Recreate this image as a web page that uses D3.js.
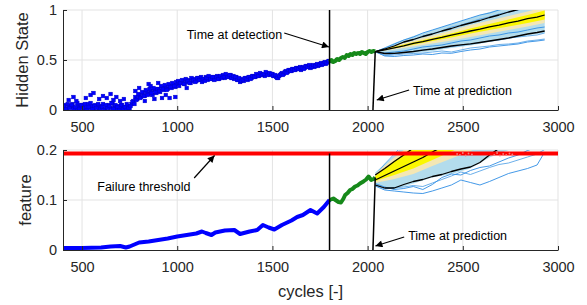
<!DOCTYPE html>
<html>
<head>
<meta charset="utf-8">
<script src="https://cdn.jsdelivr.net/npm/d3@7"></script>
<style>
body { margin: 0; background: #fff; }
text { font-family: "Liberation Sans", Arial, sans-serif; }
</style>
</head>
<body>
<div id="chart"></div>
<script>
// ---- data ----
var xTicks = [500, 1000, 1500, 2000, 2500, 3000];
var topTicks = [0, 0.5, 1];
var botTicks = [0, 0.1, 0.2];
var tDetect = 1800, tPredict = 2040, tPredictBase = 2028;
var threshold = 0.193;

// hidden state scatter, one value every 10 cycles from 400 (A) and from 405 (B)
var hsStart = 400, hsStep = 10;
var hsA = [.02,.05,.01,.04,.03,.06,.02,.00,.04,.03,
  .05,.01,.03,.06,.02,.04,.00,.05,.03,.02,
  .04,.06,.01,.03,.05,.02,.07,.03,.01,.04,
  .02,.05,.03,.01,.04,.02,.06,.09,.13,.11,
  .15,.13,.17,.14,.18,.16,.19,.15,.20,.17,
  .21,.18,.22,.20,.23,.21,.24,.22,.25,.23,
  .26,.24,.27,.29,.26,.28,.30,.27,.29,.31,
  .29,.32,.30,.28,.31,.33,.30,.32,.31,.33,
  .32,.34,.31,.33,.35,.32,.34,.33,.35,.32,
  .31,.33,.30,.28,.31,.29,.32,.30,.33,.32,
  .34,.33,.35,.34,.36,.35,.34,.37,.36,.35,
  .36,.34,.33,.32,.35,.37,.36,.39,.38,.40,
  .39,.41,.40,.42,.41,.40,.43,.42,.44,.43,
  .42,.44,.43,.45,.44,.46,.45,.47,.46,.48,
  .49];
var hsB = [.04,.01,.06,.02,.05,.01,.03,.07,.01,.05,
  .02,.06,.00,.03,.07,.01,.04,.02,.06,.01,
  .03,.00,.05,.02,.04,.07,.01,.05,.03,.00,
  .05,.01,.03,.06,.02,.04,.08,.06,.10,.16,
  .12,.18,.14,.20,.15,.21,.17,.22,.18,.21,
  .19,.24,.21,.25,.20,.26,.23,.27,.24,.28,
  .29,.27,.30,.26,.31,.29,.27,.32,.30,.28,
  .32,.30,.33,.31,.29,.32,.34,.31,.33,.30,
  .33,.31,.34,.32,.33,.36,.33,.35,.32,.34,
  .33,.30,.32,.29,.30,.32,.31,.33,.31,.34,
  .33,.36,.34,.37,.35,.36,.38,.35,.37,.36,
  .34,.35,.32,.34,.36,.35,.38,.37,.40,.39,
  .41,.40,.42,.41,.43,.42,.41,.44,.43,.45,
  .43,.45,.44,.46,.45,.47,.46,.48,.47,.49];
var hsOutX = [430,455,470,520,545,560,590,610,630,650,665,680,700,720,780,800,830,850,860,880,900,920,940,960,990,1050];
var hsOutY = [.10,.13,.09,.12,.15,.17,.11,.14,.12,.16,.10,.13,.09,.11,.19,.22,.09,.26,.24,.11,.27,.12,.15,.12,.13,.22];

// hidden state after detection (green)
var hsGreenX = [1800,1810,1820,1830,1840,1850,1860,1870,1880,1890,1900,1910,1920,1930,1940,1950,1960,1970,1980,1990,2000,2010,2020,2030,2040];
var hsGreenY = [.48,.50,.48,.49,.51,.50,.52,.53,.52,.55,.54,.56,.55,.57,.56,.57,.56,.58,.57,.56,.58,.59,.58,.59,.585];

// feature (bottom)
var feBlueX = [400,450,500,550,600,650,700,730,750,800,850,900,950,1000,1050,1100,1130,1150,1180,1200,1250,1300,1330,1380,1420,1450,1480,1510,1550,1600,1630,1660,1700,1735,1770,1800];
var feBlueY = [.004,.004,.004,.0045,.005,.007,.008,.005,.007,.015,.017,.020,.023,.027,.030,.033,.037,.034,.030,.035,.039,.040,.032,.037,.040,.050,.045,.041,.050,.059,.066,.070,.080,.073,.086,.100];
var feGreenX = [1800,1820,1835,1847,1860,1872,1882,1895,1908,1920,1934,1947,1960,1978,1992,2005,2019,2032,2040];
var feGreenY = [.100,.103,.099,.096,.095,.102,.110,.114,.120,.122,.127,.129,.133,.137,.141,.147,.140,.142,.145];

// prognosis fan
var trajX = [2040,2090,2140,2190,2240,2290,2340,2390,2440,2490,2540,2590,2640,2690,2740,2790,2840,2890,2930];
var bandX = [2040,2140,2240,2340,2440,2540,2640,2740,2840,2930];

var topMed = [.583,.602,.622,.641,.666,.684,.707,.726,.748,.768,.79,.808,.832,.849,.872,.889,.913,.928,.95];
var topUp  = [.583,.61,.64,.68,.705,.735,.76,.79,.815,.845,.87,.895,.925,.95,.98,1.005,1.03,1.05,1.07];
var topLow = [.583,.565,.567,.575,.585,.598,.61,.625,.64,.652,.662,.675,.69,.705,.72,.74,.76,.775,.79];
var topTraj = [
  [.583,.62,.66,.70,.73,.77,.80,.83,.86,.89,.92,.95,.97,1.0,1.02,1.04,1.06,1.08,1.1],
  [.583,.61,.645,.675,.70,.74,.765,.79,.83,.85,.88,.91,.93,.96,.98,1.0,1.02,1.05,1.07],
  [.583,.57,.58,.59,.61,.63,.64,.65,.67,.69,.70,.72,.74,.75,.77,.78,.80,.82,.83],
  [.583,.545,.55,.56,.565,.57,.58,.59,.58,.60,.62,.63,.64,.655,.66,.67,.69,.70,.71],
  [.583,.54,.535,.545,.55,.56,.555,.57,.567,.585,.60,.61,.63,.64,.65,.66,.68,.69,.70],
  [.583,.55,.56,.575,.585,.60,.61,.62,.635,.645,.66,.675,.69,.70,.72,.73,.74,.75,.77]
];
var topBlueLo = [.583,.56,.57,.59,.62,.645,.68,.71,.745,.77];
var topBlueHi = [.583,.67,.74,.80,.86,.92,.98,1.03,1.08,1.1];
var topBeiLo  = [.583,.605,.635,.665,.695,.73,.765,.80,.835,.87];
var topBeiHi  = [.583,.645,.695,.745,.795,.85,.895,.94,.985,1.03];
var topYelLo  = [.583,.617,.653,.689,.725,.765,.80,.835,.87,.905];
var topYelHi  = [.583,.633,.677,.721,.765,.815,.86,.905,.95,.995];

var botMed = [.14,.149,.158,.167,.176,.185,.196,.206,.215,.225,.234,.243,.252,.26,.27,.28,.29,.3,.31];
var botUp  = [.15,.163,.177,.19,.204,.218,.232,.246,.26,.274,.288,.3,.31,.32,.33,.34,.35,.36,.37];
var botLow = [.13,.124,.124,.131,.137,.141,.147,.151,.157,.162,.166,.175,.19,.203,.215,.225,.235,.245,.255];
var botTraj = [
  [.128,.12,.118,.116,.114,.113,.118,.124,.13,.14,.135,.13,.137,.145,.153,.158,.163,.17,.196],
  [.13,.122,.125,.126,.129,.127,.134,.141,.148,.156,.151,.158,.165,.171,.174,.18,.186,.192,.201],
  [.133,.126,.121,.123,.127,.121,.131,.145,.152,.15,.159,.165,.168,.176,.184,.19,.199,.206,.212],
  [.15,.172,.192,.212,.23,.25,.27,.29,.31,.33,.35,.37,.39,.41,.43,.45,.47,.49,.51],
  [.145,.165,.178,.196,.21,.225,.24,.255,.27,.285,.3,.315,.33,.345,.36,.375,.39,.405,.42],
  [.136,.14,.152,.16,.172,.18,.19,.2,.21,.22,.23,.24,.25,.26,.27,.28,.29,.3,.31]
];
var botBlueLo = [.128,.121,.133,.145,.152,.163,.185,.2,.22,.24];
var botBlueHi = [.155,.19,.23,.26,.29,.32,.34,.36,.38,.40];
var botBeiLo  = [.134,.142,.152,.168,.183,.198,.215,.232,.25,.27];
var botBeiHi  = [.152,.185,.215,.245,.27,.30,.32,.34,.36,.38];
var botYelLo  = [.138,.150,.163,.18,.197,.215,.232,.25,.27,.29];
var botYelHi  = [.148,.178,.206,.235,.262,.29,.31,.33,.35,.37];

var failX = [2470,2485,2500,2515,2530,2548,2665,2680,2695,2712,2728,2745,2760];
var failY = [.192,.19,.194,.189,.193,.191,.19,.194,.189,.192,.19,.193,.191];

// ---- layout ----
var W = 587, H = 305;
var svg = d3.select("#chart").append("svg")
  .attr("width", W).attr("height", H);
svg.append("rect").attr("width", W).attr("height", H).attr("fill", "#fff");

var x = d3.scaleLinear().domain([400, 3000]).range([63, 558]);
var yTop = d3.scaleLinear().domain([0, 1]).range([110, 10]);
var yBot = d3.scaleLinear().domain([0, 0.2]).range([250, 150]);

var defs = svg.append("defs");
defs.append("marker").attr("id", "head")
  .attr("viewBox", "0 0 10 10").attr("refX", 10).attr("refY", 5)
  .attr("markerWidth", 9).attr("markerHeight", 7)
  .attr("markerUnits", "userSpaceOnUse").attr("orient", "auto")
  .append("path").attr("d", "M0,0L10,5L0,10z").attr("fill", "#000");

function panel(id, y, ticks) {
  defs.append("clipPath").attr("id", id)
    .append("rect").attr("x", 63).attr("y", y.range()[1])
    .attr("width", 558 - 63).attr("height", y.range()[0] - y.range()[1]);
  var g = svg.append("g");
  // grid
  g.selectAll(".gx").data(xTicks).enter().append("line")
    .attr("x1", x).attr("x2", x)
    .attr("y1", y.range()[0]).attr("y2", y.range()[1])
    .attr("stroke", "#e3e3e3");
  g.selectAll(".gy").data(ticks.slice(1)).enter().append("line")
    .attr("x1", 63).attr("x2", 558)
    .attr("y1", y).attr("y2", y)
    .attr("stroke", "#e3e3e3");
  var plot = g.append("g").attr("clip-path", "url(#" + id + ")");
  return {g: g, plot: plot};
}

function axes(g, y, ticks) {
  var ax = g.append("g").attr("transform", "translate(0," + y.range()[0] + ")")
    .call(d3.axisBottom(x).tickValues(xTicks).tickSize(-4).tickSizeOuter(0)
      .tickPadding(12).tickFormat(d3.format("d")));
  var ay = g.append("g").attr("transform", "translate(63,0)")
    .call(d3.axisLeft(y).tickValues(ticks).tickSize(-4).tickSizeOuter(0)
      .tickPadding(6).tickFormat(d3.format("~g")));
  [ax, ay].forEach(function(a) {
    a.select(".domain").attr("stroke", "#262626");
    a.selectAll(".tick line").attr("stroke", "#262626");
    a.selectAll("text").attr("fill", "#262626").style("font-size", "14.5px")
      .style("font-family", '"Liberation Sans", Arial, sans-serif');
  });
}

function band(plot, y, lo, hi, color) {
  plot.append("path")
    .datum(bandX.map(function(d, i) { return [d, lo[i], hi[i]]; }))
    .attr("fill", color)
    .attr("d", d3.area().x(function(d) { return x(d[0]); })
      .y0(function(d) { return y(d[1]); }).y1(function(d) { return y(d[2]); }));
}

function line(plot, y, xs, ys, color, width) {
  plot.append("path")
    .datum(xs.map(function(d, i) { return [d, ys[i]]; }))
    .attr("fill", "none").attr("stroke", color).attr("stroke-width", width)
    .attr("stroke-linejoin", "round")
    .attr("d", d3.line().x(function(d) { return x(d[0]); }).y(function(d) { return y(d[1]); }));
}

function fan(plot, y, bl, bh, el, eh, yl, yh, trajs, med, up, low) {
  band(plot, y, bl, bh, "#b3dcec");
  trajs.forEach(function(t, i) {
    line(plot, y, trajX, t, i % 2 ? "#5aa6e8" : "#2f8de4", 0.9);
  });
  band(plot, y, el, eh, "#f4e7b4");
  band(plot, y, yl, yh, "#fbf700");
  line(plot, y, trajX, med, "#000", 1.3);
  line(plot, y, trajX, up, "#000", 1.3);
  line(plot, y, trajX, low, "#000", 1.3);
}

function arrow(y, x1, y1, x2, y2) {
  svg.append("line")
    .attr("x1", x(x1)).attr("y1", y(y1)).attr("x2", x(x2)).attr("y2", y(y2))
    .attr("stroke", "#000").attr("stroke-width", 1.2)
    .attr("marker-end", "url(#head)");
}

function label(y, cx, cy, txt, anchor) {
  svg.append("text").attr("x", x(cx)).attr("y", y(cy))
    .attr("text-anchor", anchor).style("font-size", "12.5px").attr("fill", "#000")
    .text(txt);
}

// ---- top panel: hidden state ----
var pTop = panel("clipTop", yTop, topTicks);
fan(pTop.plot, yTop, topBlueLo, topBlueHi, topBeiLo, topBeiHi, topYelLo, topYelHi, topTraj, topMed, topUp, topLow);

var pts = hsA.map(function(v, i) { return [hsStart + i * hsStep, v]; })
  .concat(hsB.map(function(v, i) { return [hsStart + 5 + i * hsStep, v]; }))
  .concat(hsOutX.map(function(d, i) { return [d, hsOutY[i]]; }));
pTop.plot.selectAll(".hs").data(pts).enter().append("rect")
  .attr("x", function(d) { return x(d[0]) - 1.8; })
  .attr("y", function(d) { return yTop(d[1]) - 1.8; })
  .attr("width", 3.6).attr("height", 3.6)
  .attr("fill", "#0000ff").attr("stroke", "#0000c8").attr("stroke-width", 0.5);
line(pTop.plot, yTop, hsGreenX, hsGreenY, "#16891a", 4);

pTop.plot.append("line").attr("x1", x(tDetect)).attr("x2", x(tDetect))
  .attr("y1", yTop(0)).attr("y2", yTop(1)).attr("stroke", "#000").attr("stroke-width", 1.5);
pTop.plot.append("line").attr("x1", x(tPredictBase)).attr("x2", x(tPredict))
  .attr("y1", yTop(0)).attr("y2", yTop(hsGreenY[hsGreenY.length - 1]))
  .attr("stroke", "#000").attr("stroke-width", 1.5);
axes(pTop.g, yTop, topTicks);

// ---- bottom panel: feature ----
var pBot = panel("clipBot", yBot, botTicks);
fan(pBot.plot, yBot, botBlueLo, botBlueHi, botBeiLo, botBeiHi, botYelLo, botYelHi, botTraj, botMed, botUp, botLow);
line(pBot.plot, yBot, feBlueX, feBlueY, "#0000ff", 4);
line(pBot.plot, yBot, feGreenX, feGreenY, "#16891a", 4);

pBot.plot.append("line").attr("x1", x(400)).attr("x2", x(3000))
  .attr("y1", yBot(threshold)).attr("y2", yBot(threshold))
  .attr("stroke", "#ff0000").attr("stroke-width", 4);
pBot.plot.selectAll(".fail").data(failX).enter().append("circle")
  .attr("cx", function(d) { return x(d); })
  .attr("cy", function(d, i) { return yBot(failY[i]); })
  .attr("r", 0.9).attr("fill", "#f08080");

pBot.plot.append("line").attr("x1", x(tDetect)).attr("x2", x(tDetect))
  .attr("y1", yBot(0)).attr("y2", yBot(threshold)).attr("stroke", "#000").attr("stroke-width", 1.5);
pBot.plot.append("line").attr("x1", x(tPredictBase)).attr("x2", x(tPredict))
  .attr("y1", yBot(0)).attr("y2", yBot(feGreenY[feGreenY.length - 1]))
  .attr("stroke", "#000").attr("stroke-width", 1.5);
axes(pBot.g, yBot, botTicks);

// ---- annotations ----
label(yTop, 1551, 0.715, "Time at detection", "end");
arrow(yTop, 1562, 0.77, 1797, 0.63);
label(yTop, 2239, 0.147, "Time at prediction", "start");
arrow(yTop, 2218, 0.20, 2048, 0.10);
label(yBot, 580, 0.119, "Failure threshold", "start");
arrow(yBot, 1089, 0.144, 1196, 0.189);
label(yBot, 2213, 0.0194, "Time at prediction", "start");
arrow(yBot, 2192, 0.026, 2041, 0.008);

// axis titles
svg.append("text").attr("transform", "translate(28,60) rotate(-90)")
  .attr("text-anchor", "middle").style("font-size", "16.5px").attr("fill", "#262626")
  .text("Hidden State");
svg.append("text").attr("transform", "translate(31,200) rotate(-90)")
  .attr("text-anchor", "middle").style("font-size", "16.5px").attr("fill", "#262626")
  .text("feature");
svg.append("text").attr("x", 310.5).attr("y", 297)
  .attr("text-anchor", "middle").style("font-size", "16.5px").attr("fill", "#262626")
  .text("cycles [-]");
</script>
</body>
</html>
